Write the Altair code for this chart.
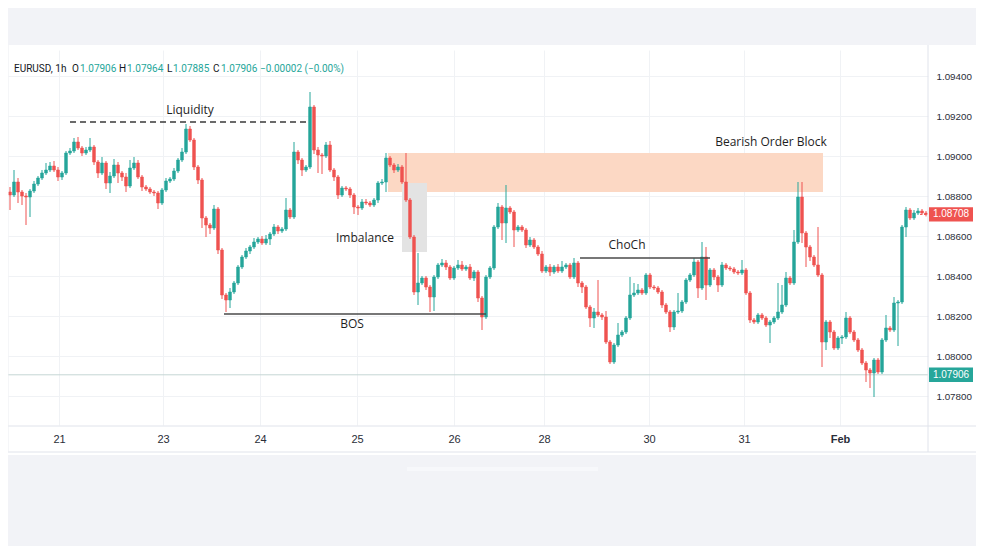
import altair as alt
import pandas as pd

# ---------------- data ----------------
first_open = 1.08820
closes = [
    1.08805, 1.08870, 1.08820, 1.08800, 1.08795, 1.08825, 1.08860, 1.08890, 1.08915, 1.08930,
    1.08950, 1.08930, 1.08895, 1.08915, 1.09015, 1.09025, 1.09070, 1.09040, 1.09015, 1.09030,
    1.09045, 1.08970, 1.08915, 1.08965, 1.08865, 1.08900, 1.08955, 1.08915, 1.08895, 1.08850,
    1.08940, 1.08965, 1.08895, 1.08845, 1.08835, 1.08820, 1.08815, 1.08765, 1.08830, 1.08875,
    1.08885, 1.08925, 1.08980, 1.09020, 1.09135, 1.09080, 1.08945, 1.08880, 1.08690, 1.08655,
    1.08640, 1.08735, 1.08530, 1.08305, 1.08280, 1.08320, 1.08365,
    1.08445, 1.08495, 1.08525, 1.08545, 1.08570, 1.08585, 1.08565, 1.08585, 1.08610, 1.08645,
    1.08625, 1.08635, 1.08730, 1.08695, 1.09020, 1.08980, 1.08930, 1.08945, 1.09245, 1.09030,
    1.09005, 1.09000, 1.09055, 1.08930, 1.08895, 1.08805, 1.08840, 1.08835, 1.08805, 1.08745,
    1.08740, 1.08770, 1.08765, 1.08755, 1.08780, 1.08865, 1.08870, 1.08990, 1.08955, 1.08930,
    1.08945, 1.08870, 1.08780, 1.08595, 1.08320, 1.08365, 1.08390, 1.08345, 1.08295, 1.08395,
    1.08455, 1.08465, 1.08445, 1.08390, 1.08440, 1.08455, 1.08435,
    1.08445, 1.08390, 1.08420, 1.08290, 1.08195, 1.08395, 1.08440, 1.08645, 1.08745, 1.08665,
    1.08740, 1.08720, 1.08630, 1.08645, 1.08630, 1.08555, 1.08580, 1.08545, 1.08510, 1.08425,
    1.08445, 1.08420, 1.08445, 1.08425, 1.08445, 1.08455, 1.08395, 1.08465, 1.08365, 1.08345,
    1.08245, 1.08190, 1.08220, 1.08205, 1.08195, 1.08070, 1.07970, 1.08055, 1.08105, 1.08120,
    1.08190, 1.08305, 1.08315, 1.08330, 1.08315, 1.08405, 1.08345, 1.08340, 1.08320, 1.08255,
    1.08220, 1.08145, 1.08220, 1.08225, 1.08270, 1.08380, 1.08405, 1.08470,
    1.08340, 1.08495, 1.08355, 1.08430, 1.08395, 1.08355, 1.08455, 1.08440, 1.08435, 1.08420,
    1.08415, 1.08430, 1.08315, 1.08180, 1.08170, 1.08205, 1.08190, 1.08155, 1.08170, 1.08190,
    1.08220, 1.08255, 1.08390, 1.08365, 1.08570, 1.08795, 1.08615, 1.08545, 1.08495, 1.08455,
    1.08405, 1.08070, 1.08170, 1.08120, 1.08040, 1.08090, 1.08095, 1.08190, 1.08120, 1.08080,
    1.08030, 1.07965, 1.07930, 1.07915, 1.07980, 1.07920, 1.08080, 1.08140, 1.08130, 1.08265,
    1.08270, 1.08645, 1.08730, 1.08690, 1.08715, 1.08725, 1.08715, 1.08708,
]
# wick lengths above / below the body, in pips
wick_up = [
    2.5, 6, 2, 1, 1.5, 1, 1.5, 1, 1.5, 3.5,
    2, 2.5, 1.5, 1, 1, 1.5, 2, 2.5, 1, 1.5,
    4.5, 1, 1, 3, 1, 2, 3, 1.5, 1, 2,
    4, 3, 1.5, 1, 1, 1, 1, 1, 1, 1.5,
    1, 1.5, 1, 2, 2.5, 1.5, 1, 1, 1, 1,
    1, 2, 1, 1, 1, 2, 1, 1, 1, 1.5,
    1, 2, 1, 1.5, 2, 1, 1.5, 1, 1, 6,
    1, 5, 1, 1, 1, 7.5, 1, 1.5, 1, 1.5,
    2, 1, 1, 1, 1, 1, 1, 1, 1.5, 1.5,
    1, 1, 1, 1.5, 2.5, 1, 1, 1.5, 1, 14.5,
    1, 1, 15, 1, 1, 1, 1, 1, 2, 1.5,
    1, 1, 2.5, 2, 1, 1.5, 1, 1, 1, 1,
    1, 1, 2, 1, 11.5, 1, 1, 1, 1, 1,
    1.5, 1, 1, 1.5, 1, 1.5, 1, 1.5, 3, 1,
    1, 2.5, 1, 1, 1, 1, 2, 16, 1, 3,
    1, 1, 6, 1, 1, 9, 5, 3, 1, 1,
    1, 1, 1, 1, 1, 1, 1, 9, 1, 1,
    1, 2, 1, 7.5, 5, 1, 1, 1, 1.5, 1,
    1, 1, 1, 5, 1, 1, 1, 1, 1, 1,
    1, 1, 14.5, 10, 3, 1, 6, 7.5, 7.5, 1,
    1, 1, 19, 1, 1, 1, 1, 1, 1, 3,
    1, 1, 1, 1, 1, 1, 1, 1, 1, 6.5,
    1, 3, 1, 1, 1.5, 1, 1.5, 1.5, 1, 1,
]
wick_dn = [
    7.5, 1, 5.5, 4.5, 14, 10, 1, 1, 1, 1,
    1, 1, 2, 1.5, 1, 1, 1, 1, 1.5, 1,
    1, 1.5, 2.5, 1, 3, 5, 1, 5, 2, 3,
    1, 1, 1, 2, 1, 1, 1.5, 3, 1, 1,
    1, 1, 1, 1, 1, 1, 1.5, 2, 5, 6,
    3, 1, 2, 2, 6, 4, 1, 1, 1, 1,
    1.5, 1, 1, 1, 1, 3, 1, 1.5, 1, 1,
    1, 1, 2, 3, 1, 1, 2, 9, 9, 1,
    1, 2, 2, 1, 1, 1.5, 3.5, 3.5, 1, 1,
    1, 1, 1.5, 1, 5, 1, 1.5, 1, 1, 1,
    1, 1.5, 6.5, 1, 1.5, 7.5, 7, 1, 1, 1.5,
    1, 1, 1, 1, 1, 1, 1.5, 2, 6.5, 1,
    1, 1, 1, 8.5, 10, 1, 8.5, 1, 1, 1.5,
    1, 1, 1, 1, 1, 2, 1, 1, 1, 1,
    1, 1, 2, 3, 1, 4.5, 5, 1, 1.5, 1,
    1, 1, 1, 1, 1, 1, 1, 1, 1, 1,
    1, 1, 1, 1.5, 1, 2.5, 1.5, 1, 1, 1,
    1, 1, 5, 1, 7.5, 1, 1.5, 3.5, 1, 1,
    1, 1, 1, 1, 1, 1.5, 1, 1, 1, 1,
    9, 1, 1, 1, 1, 1, 1, 1, 5, 10,
    2, 1, 1, 12.5, 4, 3, 1, 1, 3, 1,
    1, 1, 1, 1, 6, 7.5, 12, 1, 1, 1,
    1, 1, 21.5, 1, 5, 1, 1, 1, 1, 1,
]

day_labels = ["21", "23", "24", "25", "26", "28", "30", "31", "Feb"]
day_pos = [12.25, 38.25, 62.5, 86.75, 111, 133.5, 159.75, 183.5, 207.5]
price_ticks = [1.078, 1.080, 1.082, 1.084, 1.086, 1.088, 1.090, 1.092, 1.094]

last_price = 1.08708
ref_price = 1.07906

ann_text = ["Liquidity", "Imbalance", "BOS", "ChoCh", "Bearish Order Block"]
ann_idx = [45, 88.75, 85.5, 154.25, 190.25]
ann_price = [1.0923, 1.0859, 1.0816, 1.08555, 1.0907]

line_name = ["liquidity", "bos", "choch"]
line_start = [15, 53.5, 142.5]
line_end = [75, 119, 175]
line_price = [1.0917, 1.0821, 1.0849]

box_name = ["order_block", "imbalance"]
box_start = [94.5, 98]
box_end = [203.25, 104.25]
box_low = [1.0882, 1.0852]
box_high = [1.09015, 1.08865]

# ---------------- tables ----------------
PIP = 0.0001
opens = [first_open] + closes[:-1]
rows = []
for i, (o, c, u, d) in enumerate(zip(opens, closes, wick_up, wick_dn)):
    rows.append(dict(i=i, open=o, close=c,
                     high=max(o, c) + u * PIP, low=min(o, c) - d * PIP,
                     dir="up" if c >= o else "down"))
candles = pd.DataFrame(rows)
ann = pd.DataFrame({"text": ann_text, "i": ann_idx, "p": ann_price})
lines = pd.DataFrame({"name": line_name, "i": line_start, "i2": line_end, "p": line_price})
boxes = pd.DataFrame({"name": box_name, "i": box_start, "i2": box_end, "lo": box_low, "hi": box_high})
one = pd.DataFrame({"k": [0]})

UP = "#26a69a"
DOWN = "#ef5350"
XS = alt.Scale(domain=[-0.5, 229.5], nice=False, zero=False, padding=0)
YS = alt.Scale(domain=[1.07655, 1.0953], nice=False, zero=False, padding=0)

label_expr = " : ".join(f"datum.value == {p} ? '{l}'" for p, l in zip(day_pos, day_labels)) + " : ''"
x_axis = alt.Axis(values=day_pos, labelExpr=label_expr, title=None, grid=True, gridColor="#f0f2f5",
                  ticks=False, domain=False, labelFontSize=11, labelColor="#2a2e39",
                  labelFont="Liberation Sans", labelPadding=8,
                  labelFontWeight={"condition": {"test": "datum.value == 207.5", "value": "bold"},
                                   "value": "normal"})
y_axis = alt.Axis(orient="right", values=price_ticks, format=".5f", title=None, grid=True,
                  gridColor="#f0f2f5", ticks=False, domain=False, labelFontSize=9.8,
                  labelColor="#2a2e39", labelFont="Liberation Sans", labelPadding=8)


def X(field):
    return alt.X(field, type="quantitative", scale=XS, axis=x_axis)


def Y(field):
    return alt.Y(field, type="quantitative", scale=YS, axis=y_axis)


GRAY_BG = "#f2f3f7"
SEP = "#e0e3eb"

# background bands outside the white card
top_band = alt.Chart(one).mark_rect(color=GRAY_BG).encode(
    x=alt.value(-8), x2=alt.value(968), y=alt.value(-50), y2=alt.value(-5))
bot_band = alt.Chart(one).mark_rect(color=GRAY_BG).encode(
    x=alt.value(-8), x2=alt.value(968), y=alt.value(405), y2=alt.value(496))
bot_strip = alt.Chart(one).mark_rect(color="#f7f8fb").encode(
    x=alt.value(399), x2=alt.value(590), y=alt.value(417), y2=alt.value(421))

box_layer = alt.Chart(boxes).mark_rect().encode(
    x=X("i"), x2="i2:Q", y=Y("lo"), y2="hi:Q",
    color=alt.Color("name:N", scale=alt.Scale(domain=["order_block", "imbalance"],
                                              range=["#fcd8c4", "#e3e3e3"]), legend=None))

ref_line = alt.Chart(pd.DataFrame({"p": [ref_price]})).mark_rule(color="#c5d6d4", strokeWidth=1).encode(
    x=alt.value(0), x2=alt.value(920), y=Y("p"))

candle_color = alt.Color("dir:N", scale=alt.Scale(domain=["up", "down"], range=[UP, DOWN]), legend=None)

wicks = alt.Chart(candles).mark_rule(strokeWidth=1).encode(
    x=X("i"), y=Y("low"), y2="high:Q", color=candle_color)

bodies = alt.Chart(candles).mark_bar(size=2.8, strokeWidth=0.6).encode(
    x=X("i"), y=Y("open"), y2="close:Q", color=candle_color,
    stroke=alt.Stroke("dir:N", scale=alt.Scale(domain=["up", "down"], range=[UP, DOWN]), legend=None))

liq_line = alt.Chart(lines).transform_filter("datum.name == 'liquidity'").mark_rule(
    color="#3a3a3a", strokeWidth=1.3, strokeDash=[6, 4]).encode(
    x=X("i"), x2="i2:Q", y=Y("p"))
other_lines = alt.Chart(lines).transform_filter("datum.name != 'liquidity'").mark_rule(
    color="#4a4a4a", strokeWidth=1.4).encode(
    x=X("i"), x2="i2:Q", y=Y("p"))

ann_layer = alt.Chart(ann).mark_text(font="Open Sans", fontSize=12, color="#1e1e1e",
                                     align="center", baseline="middle").encode(
    x=X("i"), y=Y("p"), text="text:N")


# separators of the TradingView frame
def rule(x, x2, y, y2, color=SEP):
    return alt.Chart(one).mark_rule(color=color, strokeWidth=1).encode(
        x=alt.value(x), x2=alt.value(x2), y=alt.value(y), y2=alt.value(y2))


seps = [rule(920, 920, -5, 402), rule(0, 968, 376, 376), rule(0, 968, 402, 402),
        rule(0, 0, -5, 402, "#eceef2")]


# header legend
def htext(x, s, color):
    return alt.Chart(one).mark_text(font="Roboto", fontSize=10, color=color, align="left",
                                    baseline="middle").encode(
        x=alt.value(x), y=alt.value(19), text=alt.value(s))


DARK = "#131722"
HG = "#26a69a"
header = [htext(6, "EURUSD, 1h", DARK), htext(64, "O", DARK), htext(72, "1.07906", HG),
          htext(111, "H", DARK), htext(119, "1.07964", HG), htext(159, "L", DARK),
          htext(165, "1.07885", HG), htext(205, "C", DARK), htext(213, "1.07906", HG),
          htext(252, "\u22120.00002 (\u22120.00%)", HG)]

# price labels on the axis
tags = pd.DataFrame({"p": [last_price, ref_price], "kind": ["last", "ref"],
                     "label": [f"{last_price:.5f}", f"{ref_price:.5f}"]})
tag_box = alt.Chart(tags).transform_calculate(
    top="datum.p + 0.00036", bot="datum.p - 0.00036").mark_rect().encode(
    x=alt.value(921), x2=alt.value(965),
    y=Y("top"), y2="bot:Q",
    color=alt.Color("kind:N", scale=alt.Scale(domain=["last", "ref"], range=[DOWN, UP]), legend=None))
tag_text = alt.Chart(tags).mark_text(font="Liberation Sans", fontSize=10, color="white",
                                     align="center", baseline="middle").encode(
    x=alt.value(943), y=Y("p"), text="label:N")

last_line = alt.Chart(pd.DataFrame({"p": [last_price]})).mark_rule(
    color=DOWN, strokeWidth=1, strokeDash=[2, 2]).encode(
    x=alt.value(912), x2=alt.value(920), y=Y("p"))

chart = alt.layer(
    top_band, bot_band, bot_strip, box_layer, ref_line, wicks, bodies, last_line,
    liq_line, other_lines, ann_layer, *seps, *header, tag_box, tag_text
).properties(
    width=920, height=375,
    padding={"left": 0, "top": 42, "right": 48, "bottom": 121},
    autosize=alt.AutoSizeParams(type="none"),
    background="white",
).resolve_scale(color="independent", stroke="independent").configure_view(stroke=None)

chart.save("out.html", embed_options={"renderer": "svg", "actions": False})
